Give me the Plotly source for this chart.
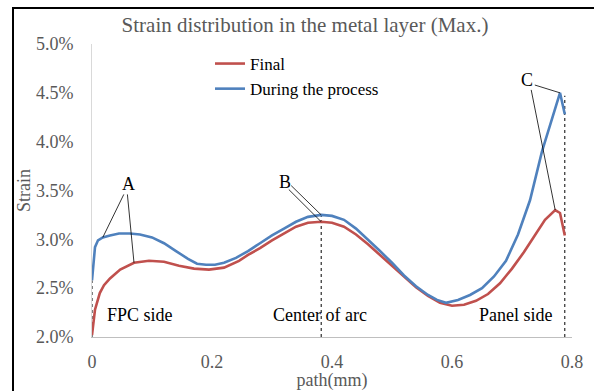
import plotly.graph_objects as go

# ---------------- data ----------------
x_during = [0, 0.005, 0.01, 0.018, 0.03, 0.045, 0.063, 0.08, 0.1, 0.12, 0.14, 0.16, 0.175,
            0.19, 0.205, 0.22, 0.24, 0.26, 0.28, 0.30, 0.32, 0.34, 0.36, 0.382, 0.40, 0.42,
            0.44, 0.46, 0.48, 0.50, 0.52, 0.54, 0.56, 0.575, 0.59, 0.61, 0.63, 0.65, 0.67,
            0.69, 0.71, 0.73, 0.75, 0.765, 0.78, 0.788]
strain_during = [2.58, 2.92, 2.99, 3.02, 3.04, 3.06, 3.06, 3.05, 3.02, 2.96, 2.88, 2.80, 2.75,
                 2.74, 2.74, 2.76, 2.81, 2.88, 2.96, 3.04, 3.11, 3.18, 3.23, 3.25, 3.24, 3.20,
                 3.11, 3.00, 2.88, 2.76, 2.63, 2.52, 2.43, 2.38, 2.35, 2.38, 2.43, 2.50, 2.62,
                 2.78, 3.05, 3.40, 3.90, 4.20, 4.50, 4.28]

x_final = [0, 0.005, 0.013, 0.02, 0.03, 0.047, 0.07, 0.095, 0.12, 0.145, 0.17, 0.195, 0.22,
           0.245, 0.26, 0.28, 0.30, 0.32, 0.34, 0.36, 0.382, 0.40, 0.42, 0.44, 0.46, 0.48,
           0.50, 0.52, 0.54, 0.56, 0.58, 0.60, 0.62, 0.64, 0.66, 0.68, 0.70, 0.72, 0.74,
           0.755, 0.772, 0.78, 0.788]
strain_final = [2.02, 2.28, 2.45, 2.53, 2.60, 2.69, 2.76, 2.78, 2.77, 2.73, 2.70, 2.69, 2.71,
                2.78, 2.84, 2.91, 2.99, 3.06, 3.13, 3.17, 3.18, 3.17, 3.13, 3.05, 2.95, 2.84,
                2.73, 2.62, 2.51, 2.42, 2.35, 2.32, 2.33, 2.37, 2.44, 2.55, 2.70, 2.87, 3.06,
                3.20, 3.30, 3.27, 3.04]

series_names = ["Final", "During the process"]
x_tick_vals = [0, 0.2, 0.4, 0.6, 0.8]
x_tick_text = ["0", "0.2", "0.4", "0.6", "0.8"]
y_tick_vals = [0.020, 0.025, 0.030, 0.035, 0.040, 0.045, 0.050]

# callouts: label, label position (x, strain %), targets (series, index)
callouts = [
    ("A", (0.06, 3.57), [("during", 3), ("final", 6)]),
    ("B", (0.322, 3.59), [("during", 23), ("final", 20)]),
    ("C", (0.725, 4.63), [("during", 44), ("final", 40)]),
]
region_labels = [("FPC side", 0.08, 2.225), ("Center of arc", 0.38, 2.225), ("Panel side", 0.707, 2.225)]

FONT = "Liberation Serif, Times New Roman, serif"
RED = "#C0504D"
BLUE = "#4F81BD"
GRAY = "#595959"

series = {"final": (x_final, strain_final), "during": (x_during, strain_during)}

fig = go.Figure()
fig.add_trace(go.Scatter(x=x_final, y=[v / 100 for v in strain_final], mode="lines",
                         name=series_names[0], line=dict(color=RED, width=2.6)))
fig.add_trace(go.Scatter(x=x_during, y=[v / 100 for v in strain_during], mode="lines",
                         name=series_names[1], line=dict(color=BLUE, width=2.6)))

shapes = []
annotations = []

# dashed vertical guides (FPC start, center of arc, panel end)
guides = [(x_during[0], strain_during[0]), (x_during[23], strain_during[23]),
          (x_during[-1], strain_during[-2] - 0.03)]
for gx, gy in guides:
    shapes.append(dict(type="line", xref="x", yref="y", x0=gx, x1=gx, y0=0.02, y1=gy / 100,
                       line=dict(color="black", width=1, dash="dot"), layer="below"))

for label, (lx, ly), targets in callouts:
    annotations.append(dict(x=lx, y=ly / 100, xref="x", yref="y", text=label, showarrow=False,
                            font=dict(family=FONT, size=18, color="black")))
    for k, (s, idx) in enumerate(targets):
        sx, sy = series[s]
        if label == "A":
            start = (lx - 0.007 + 0.006 * k, ly - 0.11)
        elif label == "B":
            start = (lx + 0.01 - 0.004 * k, ly - 0.04 - 0.04 * k)
        else:
            start = (lx + 0.013 - 0.006 * k, ly - 0.05 - 0.05 * k)
        shapes.append(dict(type="line", xref="x", yref="y", x0=start[0], y0=start[1] / 100,
                           x1=sx[idx], y1=sy[idx] / 100, line=dict(color="black", width=0.8)))

for text, tx, ty in region_labels:
    annotations.append(dict(x=tx, y=ty / 100, xref="x", yref="y", text=text, showarrow=False,
                            font=dict(family=FONT, size=18, color="black")))

# outer chart-area border (cropped at right and bottom in reference): top and left edges
W, H = 594, 391
L, R, T, B = 92, 22, 44, 54
pw, ph = W - L - R, H - T - B
bx0, bx1 = (13 - L) / pw, (W + 20 - L) / pw
by0, by1 = (H - B - (H + 20)) / ph, (H - B - 8) / ph
shapes.append(dict(type="path", xref="paper", yref="paper",
                   path=f"M {bx0} {by0} L {bx0} {by1} L {bx1} {by1}",
                   line=dict(color="black", width=2)))

fig.update_layout(
    width=W, height=H,
    margin=dict(l=L, r=R, t=T, b=B, autoexpand=False),
    paper_bgcolor="white", plot_bgcolor="white",
    font=dict(family=FONT, size=17, color=GRAY),
    title=dict(text="Strain distribution in the metal layer (Max.)", x=305 / W, xanchor="center",
               y=1 - 25 / H, yanchor="middle", font=dict(family=FONT, size=21, color=GRAY)),
    showlegend=True,
    legend=dict(x=(210 - L) / pw, y=(H - B - 46) / ph, xanchor="left", yanchor="top",
                bgcolor="rgba(0,0,0,0)", font=dict(family=FONT, size=17, color="black"),
                tracegroupgap=0, itemwidth=30),
    xaxis=dict(range=[0, 0.8], tickvals=x_tick_vals, ticktext=x_tick_text, showgrid=False,
               zeroline=False, showline=True, linecolor="#BFBFBF", linewidth=1, ticks="",
               automargin=False,
               ticklabelstandoff=8, tickfont=dict(family=FONT, size=18, color=GRAY),
               title=dict(text="path(mm)", standoff=2, font=dict(family=FONT, size=18, color=GRAY))),
    yaxis=dict(range=[0.02, 0.05], tickvals=y_tick_vals, tickformat=".1%", showgrid=False,
               zeroline=False, showline=True, linecolor="#D9D9D9", linewidth=1, ticks="",
               automargin=False,
               ticklabelstandoff=14, tickfont=dict(family=FONT, size=18, color=GRAY),
               title=dict(text="Strain", standoff=0, font=dict(family=FONT, size=18, color=GRAY))),
    shapes=shapes,
    annotations=annotations,
)

fig.write_html("out.html", config={"displayModeBar": False},
               post_script="document.body.style.margin='0';document.body.style.overflow='hidden';"
                           "document.documentElement.style.overflow='hidden';")
